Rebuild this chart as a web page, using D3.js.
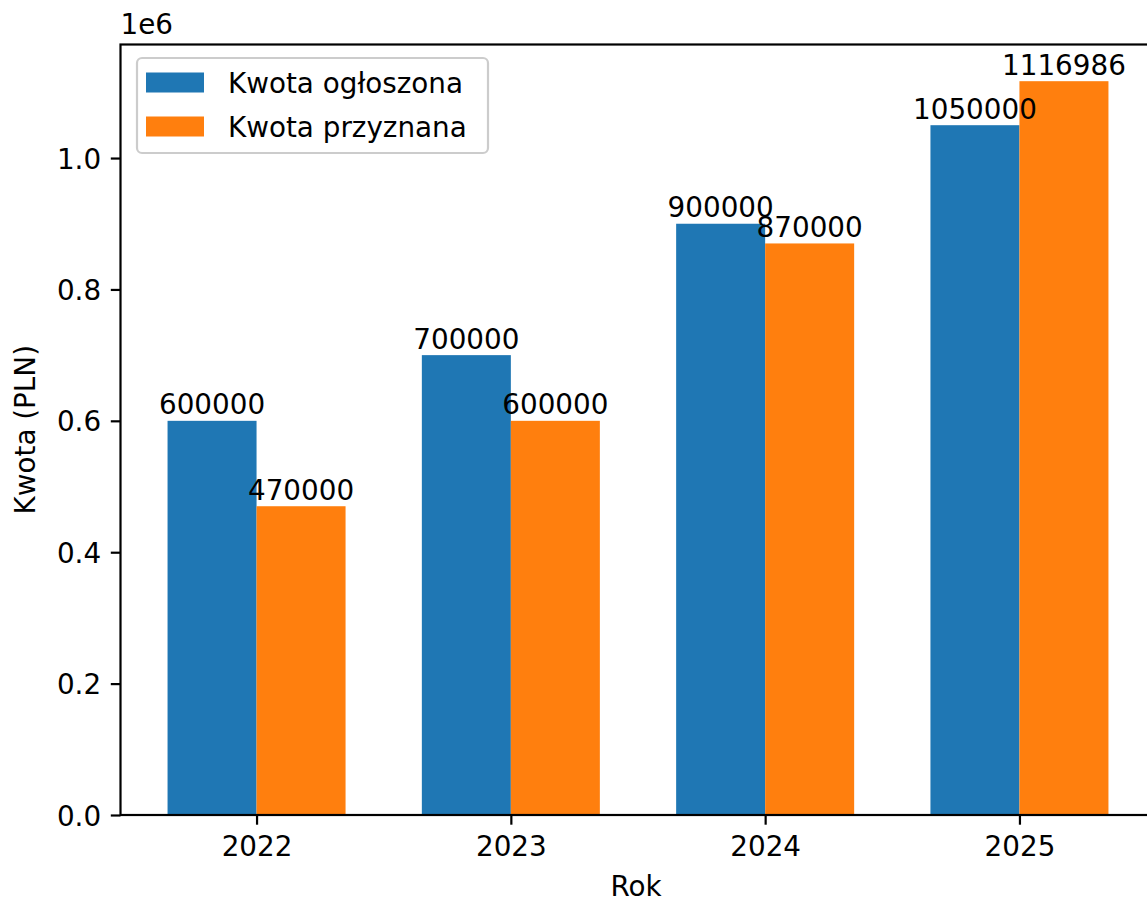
<!DOCTYPE html>
<html>
<head>
<meta charset="utf-8">
<script src="https://cdn.jsdelivr.net/npm/d3@7"></script>
<style>
  html, body { margin: 0; padding: 0; background: #fff; }
  svg { display: block; font-family: "DejaVu Sans", sans-serif; }
</style>
</head>
<body>
<svg id="chart" width="1147" height="897"></svg>
<script>
const years = ["2022", "2023", "2024", "2025"];
const seriesNames = ["Kwota ogłoszona", "Kwota przyznana"];
const announced = [600000, 700000, 900000, 1050000];
const awarded = [470000, 600000, 870000, 1116986];
const yTicks = [0, 200000, 400000, 600000, 800000, 1000000];
const colors = ["#1f77b4", "#ff7f0e"];

(function () {
const svg = d3.select("#chart");
const fs = 27.8;
const pLeft = 120.5, pRight = 1155.5, pTop = 44.5, pBottom = 815;
const barW = 0.35;

const x = d3.scaleLinear().domain([-0.535, 3.535]).range([pLeft, pRight]);
const ymax = d3.max(announced.concat(awarded)) * 1.05;
const y = d3.scaleLinear().domain([0, ymax]).range([pBottom, pTop]);

const series = [announced, awarded];
series.forEach((vals, si) => {
  const g = svg.append("g");
  g.selectAll("rect").data(vals).enter().append("rect")
    .attr("x", (d, i) => x(i + (si === 0 ? -barW : 0)))
    .attr("width", (d, i) => x(i + barW) - x(i))
    .attr("y", d => y(d))
    .attr("height", d => y(0) - y(d))
    .attr("fill", colors[si]);
});
series.forEach((vals, si) => {
  svg.append("g").selectAll("text").data(vals).enter().append("text")
    .attr("x", (d, i) => x(i + (si === 0 ? -barW / 2 : barW / 2)))
    .attr("y", d => y(d) - 6.5)
    .attr("text-anchor", "middle")
    .attr("font-size", fs)
    .attr("fill", "#000")
    .text(d => d3.format("d")(d));
});

const yAxis = d3.axisLeft(y).tickValues(yTicks).tickSize(9.7).tickPadding(9.7)
  .tickFormat(d => (d / 1e6).toFixed(1));
const ya = svg.append("g").attr("transform", `translate(${pLeft},0)`).call(yAxis);
ya.select(".domain").remove();
ya.selectAll("line").attr("stroke", "#000").attr("stroke-width", 2.2);
ya.selectAll("text").attr("font-size", fs).attr("fill", "#000")
  .attr("font-family", "DejaVu Sans").attr("dy", "0.36em");

const xAxis = d3.axisBottom(x).tickValues(years.map((d, i) => i)).tickSize(9.7).tickPadding(9.7)
  .tickFormat(i => years[i]);
const xa = svg.append("g").attr("transform", `translate(0,${pBottom})`).call(xAxis);
xa.select(".domain").remove();
xa.selectAll("line").attr("stroke", "#000").attr("stroke-width", 2.2);
xa.selectAll("text").attr("font-size", fs).attr("fill", "#000")
  .attr("font-family", "DejaVu Sans").attr("dy", "0.78em");

svg.append("rect").attr("x", pLeft).attr("y", pTop).attr("width", pRight - pLeft).attr("height", pBottom - pTop)
  .attr("fill", "none").attr("stroke", "#000").attr("stroke-width", 2.2);

svg.append("text").attr("x", pLeft).attr("y", 34).attr("font-size", fs).attr("fill", "#000").text("1e6");

svg.append("text").attr("x", 636).attr("y", 896).attr("text-anchor", "middle")
  .attr("font-size", fs).attr("fill", "#000").text("Rok");
svg.append("text").attr("transform", `translate(35,${(pTop + pBottom) / 2}) rotate(-90)`)
  .attr("text-anchor", "middle").attr("font-size", fs).attr("fill", "#000").text("Kwota (PLN)");

const lg = svg.append("g");
lg.append("rect").attr("x", 137).attr("y", 58).attr("width", 351).attr("height", 95)
  .attr("rx", 5).attr("fill", "#fff").attr("fill-opacity", 0.8)
  .attr("stroke", "#cccccc").attr("stroke-width", 2.2);
seriesNames.forEach((name, i) => {
  const cy = 82.5 + i * 44;
  lg.append("rect").attr("x", 146).attr("y", cy - 10).attr("width", 58).attr("height", 20).attr("fill", colors[i]);
  lg.append("text").attr("x", 228).attr("y", cy + 10).attr("font-size", fs).attr("fill", "#000").text(name);
});
})();
</script>
</body>
</html>
